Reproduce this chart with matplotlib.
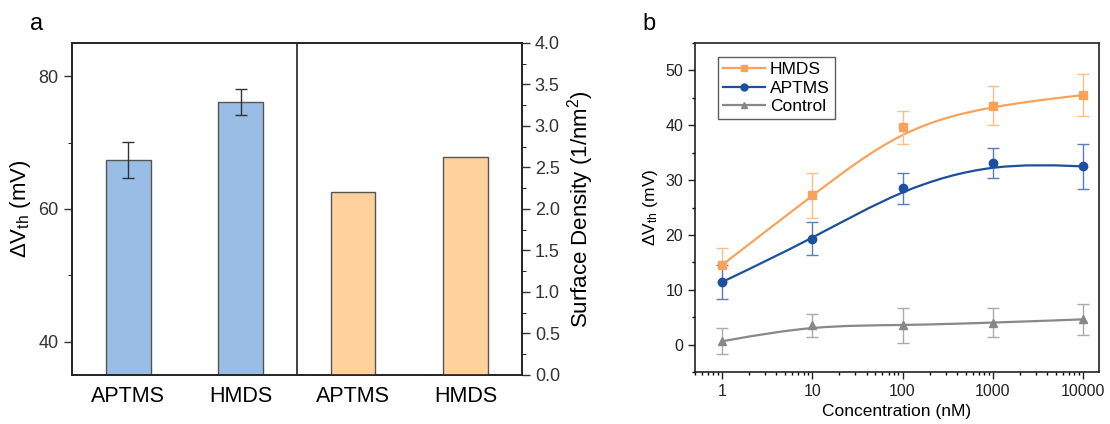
import matplotlib
matplotlib.use("Agg")
import matplotlib.pyplot as plt
import numpy as np
from matplotlib.path import Path
from matplotlib.patches import PathPatch
from matplotlib.lines import Line2D
from matplotlib.ticker import MultipleLocator, LogLocator, NullFormatter

plt.rcParams['font.family'] = ['Liberation Sans', 'DejaVu Sans']
plt.rcParams['mathtext.fontset'] = 'custom'
plt.rcParams['mathtext.rm'] = 'Liberation Sans'
plt.rcParams['mathtext.it'] = 'Liberation Sans:italic'

# panel a data
bar_labels = ["APTMS", "HMDS", "APTMS", "HMDS"]
dvth_bars = [67.4, 76.1]
dvth_err = [2.7, 2.0]
density_bars = [2.20, 2.63]

# panel b data
conc = [1, 10, 100, 1000, 10000]
hmds = [14.5, 27.2, 39.6, 43.6, 45.5]
hmds_err = [3.1, 4.1, 3.0, 3.6, 3.8]
aptms = [11.4, 19.3, 28.5, 33.1, 32.5]
aptms_err = [3.1, 3.0, 2.8, 2.7, 4.1]
control = [0.6, 3.5, 3.5, 4.0, 4.6]
control_err = [2.4, 2.1, 3.2, 2.7, 2.8]


def bspline_path(x, y):
    # clamped uniform cubic B-spline (in log-x) written as bezier segments
    u = list(np.log10(x))
    v = list(y)
    u = [u[0]] * 2 + u + [u[-1]] * 2
    v = [v[0]] * 2 + v + [v[-1]] * 2
    P = np.column_stack([u, v])
    verts = []
    codes = []
    for i in range(len(P) - 3):
        q0, q1, q2, q3 = P[i], P[i + 1], P[i + 2], P[i + 3]
        b0 = (q0 + 4 * q1 + q2) / 6
        b1 = (2 * q1 + q2) / 3
        b2 = (q1 + 2 * q2) / 3
        b3 = (q1 + 4 * q2 + q3) / 6
        if not verts:
            verts.append(b0)
            codes.append(Path.MOVETO)
        verts += [b1, b2, b3]
        codes += [Path.CURVE4] * 3
    verts = np.array(verts)
    verts[:, 0] = 10 ** verts[:, 0]
    return Path(verts, codes)


fig = plt.figure(figsize=(11.1, 4.24), dpi=100)

# ---- panel a ----
ax1 = fig.add_axes([0.0649, 0.1156, 0.405, 0.783])
ax2 = ax1.twinx()
pos = np.arange(4)
ax1.bar(pos[:2], dvth_bars, width=0.4, color="#99bde4", edgecolor="#555555",
        linewidth=1.0, yerr=dvth_err, capsize=4,
        error_kw=dict(ecolor="#333333", elinewidth=1.0, capthick=1.0), zorder=2)
ax2.bar(pos[2:], density_bars, width=0.4, color="#ffd19c", edgecolor="#555555",
        linewidth=1.0, zorder=2)
ax1.axvline(1.5, color="#222222", linewidth=1.2)
ax1.set_xlim(-0.5, 3.5)
ax1.set_ylim(35, 85)
ax2.set_ylim(0, 4.0)
ax1.set_xticks(pos)
ax1.set_xticklabels(bar_labels, fontsize=15.5)
ax1.tick_params(axis="x", length=0, pad=8)
ax1.yaxis.set_major_locator(MultipleLocator(20))
ax1.yaxis.set_minor_locator(MultipleLocator(10))
ax1.tick_params(axis="y", labelsize=13, length=6, width=1, colors="#333333")
ax1.tick_params(axis="y", which="minor", length=3)
ax2.yaxis.set_minor_locator(MultipleLocator(0.25))
ax2.set_yticks(np.arange(0, 4.01, 0.5))
ax2.set_yticklabels(["%.1f" % t for t in np.arange(0, 4.01, 0.5)])
ax2.tick_params(axis="y", labelsize=13, length=6, width=1, colors="#333333")
ax2.tick_params(axis="y", which="minor", length=3)
ax1.set_ylabel(r"ΔV$_{\mathrm{th}}$ (mV)", fontsize=16, labelpad=4)
ax2.set_ylabel(r"Surface Density (1/nm$^{2}$)", fontsize=16, labelpad=4)
for ax in (ax1, ax2):
    for s in ax.spines.values():
        s.set_color("#222222")
        s.set_linewidth(1.2)
fig.text(0.027, 0.93, "a", fontsize=17)

# ---- panel b ----
ax3 = fig.add_axes([0.626, 0.1226, 0.364, 0.776])
ax3.set_xscale("log")
series = [
    ("HMDS", hmds, hmds_err, "#f7a35c", "#f9c08e", "s"),
    ("APTMS", aptms, aptms_err, "#1c4f9c", "#5a7db5", "o"),
    ("Control", control, control_err, "#888888", "#aaaaaa", "^"),
]
handles = []
for name, vals, err, col, ecol, mk in series:
    ax3.add_patch(PathPatch(bspline_path(conc, vals), facecolor="none",
                            edgecolor=col, linewidth=1.6, zorder=2))
    ax3.errorbar(conc, vals, yerr=err, fmt=mk, color=col, ecolor=ecol,
                 markersize=6, elinewidth=1.0, capsize=4, capthick=1.0, zorder=3)
    handles.append(Line2D([], [], color=col, marker=mk, markersize=5, linewidth=1.6))
ax3.set_xlim(0.5, 15000)
ax3.set_ylim(-5, 55)
ax3.set_xticks(conc)
ax3.set_xticklabels([str(c) for c in conc])
ax3.xaxis.set_minor_locator(LogLocator(base=10, subs=np.arange(2, 10), numticks=20))
ax3.xaxis.set_minor_formatter(NullFormatter())
ax3.yaxis.set_major_locator(MultipleLocator(10))
ax3.yaxis.set_minor_locator(MultipleLocator(5))
ax3.tick_params(axis="both", labelsize=11.5, length=5, width=1, colors="#222222")
ax3.tick_params(axis="both", which="minor", length=2.5, width=1)
ax3.set_xlabel("Concentration (nM)", fontsize=12.5)
ax3.set_ylabel(r"ΔV$_{\mathrm{th}}$ (mV)", fontsize=12.5, labelpad=4)
for s in ax3.spines.values():
    s.set_color("#222222")
    s.set_linewidth(1.2)
leg = ax3.legend(handles, [s[0] for s in series], loc="upper left",
                 bbox_to_anchor=(0.035, 0.985), fontsize=12.5, frameon=True,
                 fancybox=False, edgecolor="#333333", handlelength=2.4,
                 borderpad=0.3, labelspacing=0.2, handletextpad=0.3)
leg.get_frame().set_linewidth(1.0)
fig.text(0.579, 0.93, "b", fontsize=17)

fig.savefig("out.png", dpi=100)
